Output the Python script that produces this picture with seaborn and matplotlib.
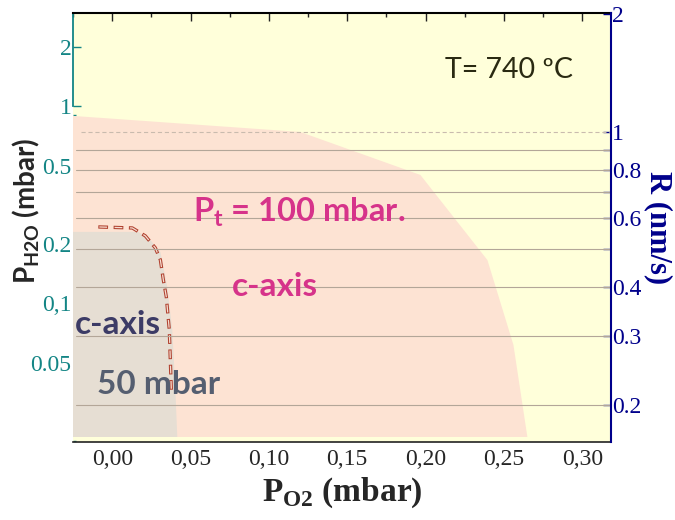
import numpy as np
import pandas as pd
import matplotlib.pyplot as plt
import seaborn as sns

# =============================================================================
# DATOS (leídos del diagrama)
# =============================================================================
# región Pt = 100 mbar (P_O2, P_H2O en mbar)
pt100_po2 = [-0.0251, 0.120, 0.1967, 0.2395, 0.2561, 0.2650, -0.0251]
pt100_ph2o = [0.895, 0.742, 0.449, 0.166, 0.0616, 0.0210, 0.0210]

# región Pt = 50 mbar
pt50_po2 = [-0.0251, 0.0166, 0.0243, 0.0307, 0.0351, 0.0383, 0.0402, 0.0415, -0.0251]
pt50_ph2o = [0.2307, 0.2307, 0.2100, 0.1826, 0.1213, 0.0734, 0.0377, 0.0210, 0.0210]

# borde discontinuo (rojo)
borde_po2 = [-0.0089, 0.0128, 0.0211, 0.0275, 0.0307, 0.0326, 0.0345, 0.0364, 0.0377, 0.0380, 0.0377]
borde_ph2o = [0.2445, 0.2416, 0.2202, 0.1913, 0.1663, 0.1316, 0.1079, 0.0734, 0.0476, 0.0377, 0.0278]

ticks_po2 = [0.00, 0.05, 0.10, 0.15, 0.20, 0.25, 0.30]
etiquetas_po2 = ['0,00', '0,05', '0,10', '0,15', '0,20', '0,25', '0,30']
minor_po2 = [-0.025, 0.025, 0.075, 0.125, 0.175, 0.225, 0.275]

ticks_h2o = [0.05, 0.1, 0.2, 0.5, 1, 2]
etiquetas_h2o = ['0.05', '0,1', '0.2', '0.5', '1', '2']

ticks_r = [0.2, 0.3, 0.4, 0.6, 0.8, 1, 2]
etiquetas_r = ['0.2', '0.3', '0.4', '0.6', '0.8', '1', '2']
minor_r = [0.5, 0.7, 0.9]
rejilla_r = [0.2, 0.3, 0.4, 0.5, 0.6, 0.7, 0.8, 0.9]

# =============================================================================
# ESTILO
# =============================================================================
sns.set_style('white')
plt.rcParams['font.family'] = ['Lato', 'DejaVu Sans']
plt.rcParams['mathtext.fontset'] = 'custom'
plt.rcParams['mathtext.rm'] = 'Lato:bold'
plt.rcParams['mathtext.sf'] = 'Liberation Serif:bold'
plt.rcParams['lines.scale_dashes'] = False

TEAL = '#138585'
NAVY = '#00008B'
MAGENTA = '#D6338A'
SERIF = 'Liberation Serif'

fig = plt.figure(figsize=(6.75, 5.2), dpi=100)
ax = fig.add_axes([0.1081, 0.15, 0.7971, 0.825])
ax.set_facecolor('#FFFFDA')
ax.set_yscale('log')
ax.set_xlim(-0.0251, 0.3184)
ax.set_ylim(0.0198, 2.98)

ax.fill(pt100_po2, pt100_ph2o, color='#FDE3D3', lw=0, zorder=1)
ax.fill(pt50_po2, pt50_ph2o, color='#E6DED3', lw=0, zorder=2)

# borde "hueco": trazo rojo oscuro + trazo claro encima
sns.lineplot(x=borde_po2, y=borde_ph2o, ax=ax, sort=False, color='#B0402E',
             lw=2.4, linestyle=(0, (7, 4)), zorder=3)
sns.lineplot(x=borde_po2, y=borde_ph2o, ax=ax, sort=False, color='#F6DDD0',
             lw=0.9, linestyle=(10.3, (5.6, 5.4)), zorder=4)

# eje x
ax.set_xticks(ticks_po2)
ax.set_xticklabels(etiquetas_po2, fontfamily=SERIF, fontsize=17)
ax.set_xticks(minor_po2, minor=True)
ax.tick_params(axis='x', which='major', direction='in', length=6, width=1,
               color='#222222', top=True, pad=5)
ax.tick_params(axis='x', which='minor', direction='in', length=3, width=1,
               color='#222222', top=True)

# eje izquierdo (P_H2O)
ax.set_yticks(ticks_h2o)
ax.set_yticklabels(etiquetas_h2o, fontfamily=SERIF, fontsize=17, color=TEAL)
ax.tick_params(axis='y', which='major', direction='in', length=6, width=1,
               color=TEAL, pad=1)
ax.tick_params(axis='y', which='minor', direction='in', length=2, width=1,
               color=TEAL)

ax.set_xlabel(r'P$_{\mathsf{O2}}$ (mbar)', fontfamily=SERIF, fontsize=24,
              fontweight='bold', labelpad=4)
ax.set_ylabel(r'P$_{\mathrm{H2O}}$ (mbar)', fontsize=20, fontweight='bold')
ax.yaxis.set_label_coords(-0.058, 0.54)

ax.spines['top'].set_color('black')
ax.spines['top'].set_linewidth(1.5)
ax.spines['bottom'].set_color('#222222')
ax.spines['bottom'].set_linewidth(1.2)
ax.spines['left'].set_color(TEAL)
ax.spines['left'].set_linewidth(1.3)
ax.spines['left'].set_bounds(1, 2.98)
ax.spines['right'].set_visible(False)

# eje derecho (R)
ax2 = ax.twinx()
ax2.set_yscale('log')
ax2.set_ylim(0.161, 2.01)
ax2.set_yticks(ticks_r)
ax2.set_yticklabels(etiquetas_r, fontfamily=SERIF, fontsize=17, color=NAVY)
ax2.set_yticks(minor_r, minor=True)
ax2.set_yticklabels([], minor=True)
ax2.tick_params(axis='y', which='both', direction='in', length=6, width=1,
                color=NAVY, pad=1)
for lado in ['left', 'top', 'bottom']:
    ax2.spines[lado].set_visible(False)
ax2.spines['right'].set_color(NAVY)
ax2.spines['right'].set_linewidth(1.5)
ax2.set_ylabel('R (nm/s)', fontfamily=SERIF, fontsize=22, fontweight='bold',
               color=NAVY, rotation=270, labelpad=22)

for v in rejilla_r:
    ax2.axhline(v, xmin=0.005, color='#B3A698', lw=0.8, zorder=1)
ax2.axhline(1, xmin=0.015, color='#C9BBAE', lw=0.8, ls=(0, (3, 2)), zorder=1)

# textos
ax2.text(0.2535, 1.532, 'T= 740 ºC', transform=ax.transData, fontsize=20.5,
         color='#2A2A12', ha='center', va='center')
ax2.text(0.0517, 0.2913, r'P$_{\mathrm{t}}$ = 100 mbar.', transform=ax.transData,
         fontsize=23.5, fontweight='bold', color=MAGENTA, ha='left', va='center')
ax2.text(0.0766, 0.1213, 'c-axis', transform=ax.transData, fontsize=24,
         fontweight='bold', color=MAGENTA, ha='left', va='center')
ax2.text(-0.0236, 0.0778, 'c-axis', transform=ax.transData, fontsize=24,
         fontweight='bold', color='#3C3B66', ha='left', va='center')
ax2.text(-0.0096, 0.0386, '50 mbar', transform=ax.transData, fontsize=24,
         fontweight='bold', color='#555E70', ha='left', va='center')

plt.savefig('out.png', dpi=100)
